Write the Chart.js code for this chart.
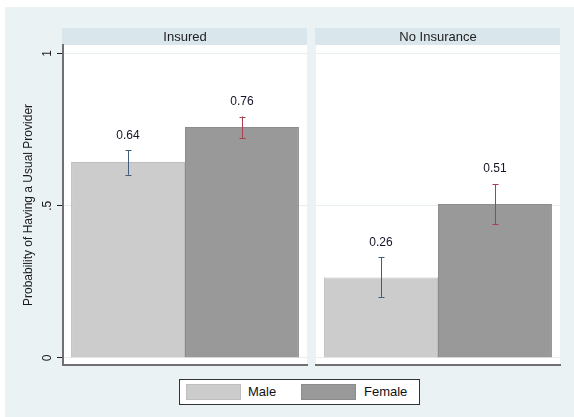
<!DOCTYPE html>
<html lang="en">
<head>
  <meta charset="utf-8">
  <title>Probability of Having a Usual Provider</title>
  <style type="text/css">
    body {
      margin: 0;
      background-color: #ffffff;
      font-family: 'Liberation Sans', Arial, sans-serif;
    }
    #bg {
      position: absolute;
      left: 5px;
      top: 7px;
      width: 569px;
      height: 410px;
      background-color: #EAF2F3;
    }
    #panelA, #panelB {
      position: absolute;
      top: 0;
    }
    #legend {
      position: absolute;
      left: 179px;
      top: 379px;
      width: 239px;
      height: 24px;
      border: 1px solid #333333;
      background-color: #ffffff;
      font-size: 13px;
      color: #111111;
    }
    #legend .sw {
      position: absolute;
      top: 4px;
      width: 53px;
      height: 14px;
    }
    #legend .lb {
      position: absolute;
      top: 4px;
      line-height: 16px;
    }
  </style>
  <script src="https://cdn.jsdelivr.net/npm/chart.js@4"></script>
</head>
<body>
  <div id="bg"></div>
  <canvas id="panelA" width="310" height="417" style="left:0px;width:310px;height:417px;"></canvas>
  <canvas id="panelB" width="264" height="417" style="left:310px;width:264px;height:417px;"></canvas>
  <div id="legend"></div>
  <script>
    const panels = ['Insured', 'No Insurance'];
    const seriesNames = ['Male', 'Female'];
    const maleValues = [0.644, 0.264];
    const femaleValues = [0.759, 0.506];
    const maleLow = [0.602, 0.201];
    const maleHigh = [0.682, 0.331];
    const femaleLow = [0.723, 0.440];
    const femaleHigh = [0.793, 0.571];
    const yTicks = [0, 0.5, 1];
    const yTickLabels = ['0', '.5', '1'];
    const yTitle = 'Probability of Having a Usual Provider';

    const barColors = ['#CCCCCC', '#999999'];
    const barBorders = ['#BEBEBE', '#8C8C8C'];
    const errColors = ['#3E5C7E', '#A8404F'];
    const font = "'Liberation Sans', Arial, sans-serif";

    // white plot region + grey header strip with the panel name
    const panelBg = {
      id: 'panelBg',
      beforeDraw(chart) {
        const ctx = chart.ctx;
        const a = chart.chartArea;
        ctx.save();
        ctx.fillStyle = '#ffffff';
        ctx.fillRect(a.left, a.top, a.right - a.left, a.bottom - a.top);
        ctx.fillStyle = '#D9E6EC';
        ctx.fillRect(a.left - 1, 28, a.right - a.left + 1, a.top - 28);
        ctx.fillStyle = '#222222';
        ctx.font = '13px ' + font;
        ctx.textAlign = 'center';
        ctx.textBaseline = 'middle';
        ctx.fillText(chart.data.labels[0], (a.left + a.right) / 2, 37);
        ctx.restore();
      }
    };

    // confidence interval whiskers and value labels
    const errBars = {
      id: 'errBars',
      afterDatasetsDraw(chart) {
        const ctx = chart.ctx;
        const y = chart.scales.y;
        ctx.save();
        chart.data.datasets.forEach(function (ds, di) {
          const meta = chart.getDatasetMeta(di);
          meta.data.forEach(function (bar, i) {
            const lo = y.getPixelForValue(ds.low[i]);
            const hi = y.getPixelForValue(ds.high[i]);
            const x = Math.round(bar.x) + 0.5;
            ctx.strokeStyle = errColors[di];
            ctx.lineWidth = 1;
            ctx.beginPath();
            ctx.moveTo(x, lo);
            ctx.lineTo(x, hi);
            ctx.moveTo(x - 3, Math.round(lo) + 0.5);
            ctx.lineTo(x + 3, Math.round(lo) + 0.5);
            ctx.moveTo(x - 3, Math.round(hi) + 0.5);
            ctx.lineTo(x + 3, Math.round(hi) + 0.5);
            ctx.stroke();
            ctx.fillStyle = '#141428';
            ctx.font = '12px ' + font;
            ctx.textAlign = 'center';
            ctx.textBaseline = 'middle';
            ctx.fillText(ds.data[i].toFixed(2), bar.x, hi - 15);
          });
        });
        ctx.restore();
      }
    };

    function makeChart(id, p, showAxis, padding) {
      const ctx = document.getElementById(id).getContext('2d');
      return new Chart(ctx, {
        type: 'bar',
        data: {
          labels: [panels[p]],
          datasets: [
            {
              label: seriesNames[0],
              data: [maleValues[p]],
              low: [maleLow[p]],
              high: [maleHigh[p]],
              backgroundColor: barColors[0],
              borderColor: barBorders[0],
              borderWidth: 1
            },
            {
              label: seriesNames[1],
              data: [femaleValues[p]],
              low: [femaleLow[p]],
              high: [femaleHigh[p]],
              backgroundColor: barColors[1],
              borderColor: barBorders[1],
              borderWidth: 1
            }
          ]
        },
        options: {
          responsive: false,
          animation: false,
          layout: { padding: padding },
          categoryPercentage: 0.934,
          barPercentage: 1,
          plugins: {
            legend: { display: false },
            tooltip: { enabled: false }
          },
          scales: {
            x: {
              ticks: { display: false },
              grid: { display: false },
              border: { color: '#707070', width: 2 },
              afterFit: function (s) { s.height = 0; }
            },
            y: {
              min: -0.023,
              max: 1.028,
              afterBuildTicks: function (s) {
                s.ticks = yTicks.map(function (v) { return { value: v }; });
              },
              afterFit: function (s) { s.width = showAxis ? 63 : 0; },
              ticks: {
                display: showAxis,
                minRotation: 90,
                maxRotation: 90,
                crossAlign: 'center',
                padding: 4,
                color: '#1a1a1a',
                font: { family: font, size: 12 },
                callback: function (v) {
                  const k = yTicks.indexOf(v);
                  return k >= 0 ? yTickLabels[k] : '';
                }
              },
              grid: {
                color: '#E6EEF0',
                tickColor: '#222222',
                tickLength: 6,
                drawTicks: showAxis
              },
              border: { display: showAxis, color: '#707070', width: 2 },
              title: {
                display: showAxis,
                text: yTitle,
                color: '#1a1a1a',
                font: { family: font, size: 12 },
                padding: { top: 21, bottom: 0 }
              }
            }
          }
        },
        plugins: [panelBg, errBars]
      });
    }

    makeChart('panelA', 0, true, { top: 45, right: 3, bottom: 52, left: 0 });
    makeChart('panelB', 1, false, { top: 45, right: 14, bottom: 52, left: 6 });

    // legend built from the series arrays
    const legend = document.getElementById('legend');
    const swLeft = [6, 121];
    const lbLeft = [68, 184];
    seriesNames.forEach(function (name, i) {
      const sw = document.createElement('span');
      sw.className = 'sw';
      sw.style.left = swLeft[i] + 'px';
      sw.style.background = barColors[i];
      sw.style.border = '1px solid ' + barBorders[i];
      legend.appendChild(sw);
      const lb = document.createElement('span');
      lb.className = 'lb';
      lb.style.left = lbLeft[i] + 'px';
      lb.textContent = name;
      legend.appendChild(lb);
    });
  </script>
</body>
</html>
